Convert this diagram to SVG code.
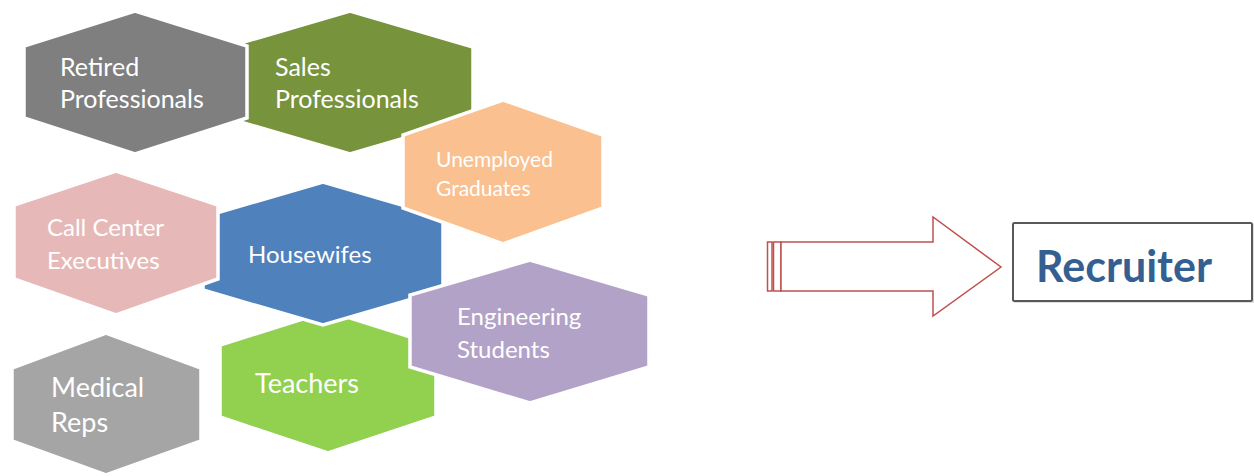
<svg xmlns="http://www.w3.org/2000/svg" width="1254" height="476" viewBox="0 0 1254 476">
  <style>
    .hex { stroke: #ffffff; stroke-width: 3.5; stroke-linejoin: miter; }
    .lbl { font-family: Lato, "Open Sans", sans-serif; fill: #ffffff; }
    .arrow { fill: #ffffff; stroke: #c0504d; stroke-width: 1.5; }
  </style>
  <rect width="1254" height="476" fill="#ffffff"/>

  <!-- Hexagon cluster (drawn back to front) -->
  <g id="sales">
    <polygon class="hex" fill="#77933c" points="350,11 473,47 473,118 350,154 227,118 227,47"/>
    <text class="lbl" font-size="25"><tspan x="275" y="76">Sales</tspan><tspan x="275" y="108">Professionals</tspan></text>
  </g>
  <g id="retired">
    <polygon class="hex" fill="#7f7f7f" points="135,11 247,46 247,118 135,154 24,118 24,46"/>
    <text class="lbl" font-size="25"><tspan x="60" y="76">Retired</tspan><tspan x="60" y="108">Professionals</tspan></text>
  </g>
  <g id="teachers">
    <polygon class="hex" fill="#92d050" points="328,311 436,345 436,417 328,453 220,417 220,345"/>
    <text class="lbl" font-size="27" x="255" y="393">Teachers</text>
  </g>
  <g id="housewifes">
    <polygon class="hex" fill="#4f81bd" points="323,182 443,217 443,290 323,325 203,290 203,217"/>
    <text class="lbl" font-size="24" x="248" y="263">Housewifes</text>
  </g>
  <g id="call-center">
    <polygon class="hex" fill="#e6b9b8" points="116,171 218,205 218,279 116,315 14,279 14,205"/>
    <text class="lbl" font-size="24"><tspan x="47" y="236">Call Center</tspan><tspan x="47" y="269">Executives</tspan></text>
  </g>
  <g id="unemployed">
    <polygon class="hex" fill="#fac090" points="503,100 603,135 603,208 503,244 403,208 403,135"/>
    <text class="lbl" font-size="21"><tspan x="436" y="167">Unemployed</tspan><tspan x="436" y="196">Graduates</tspan></text>
  </g>
  <g id="engineering">
    <polygon class="hex" fill="#b3a2c7" points="530,260 649,295 649,367 530,403 410,367 410,295"/>
    <text class="lbl" font-size="24"><tspan x="457" y="325">Engineering</tspan><tspan x="457" y="358">Students</tspan></text>
  </g>
  <g id="medical">
    <polygon class="hex" fill="#a5a5a5" points="106,333 201,368 201,441 106,475 12,441 12,368"/>
    <text class="lbl" font-size="27"><tspan x="51" y="397">Medical</tspan><tspan x="51" y="432">Reps</tspan></text>
  </g>

  <!-- Striped block arrow -->
  <g id="connectors">
    <rect class="arrow" x="767.5" y="242" width="4.5" height="49"/>
    <rect class="arrow" x="773.5" y="242" width="7.5" height="49"/>
    <path class="arrow" d="M781,242 H933 V217 L1001,267 L933,316 V291 H781 Z"/>
  </g>

  <g id="recruiter">
    <rect x="1014" y="224" width="240" height="79" fill="#bfbfbf" opacity="0.5"/>
    <rect x="1013" y="223" width="239" height="78" fill="#ffffff" stroke="#595959" stroke-width="2" rx="1.5"/>
    <text x="1036" y="282" font-family="Lato, 'Open Sans', sans-serif" font-weight="bold" font-size="43" fill="#365f91">Recruiter</text>
  </g>
</svg>
